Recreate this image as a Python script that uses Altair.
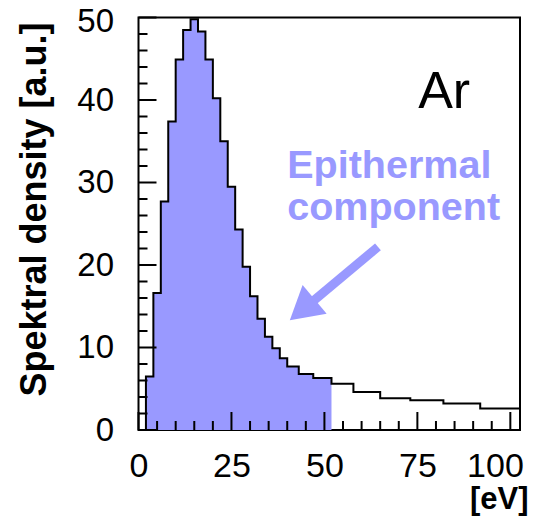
import altair as alt
import pandas as pd

# ---- data ----
edges = [0, 2, 4, 6, 8, 10, 12, 14, 16, 18, 20, 22, 24, 26, 28, 30, 32, 34, 36, 38, 40,
         43.1, 47, 51.9, 57.8, 65, 73.1, 82, 91.9, 102.6]
values = [0, 6.5, 16.6, 27.7, 37.4, 44.9, 48.5, 49.8, 48.3, 44.9, 40.2, 35.0, 29.5, 24.3,
          19.8, 16.2, 13.5, 11.3, 9.9, 8.7, 7.7, 6.8, 6.3, 5.6, 4.6, 3.85, 3.6, 3.2, 2.6]
n_filled = 23  # bins up to 51.9 eV are shaded

x_major = [0, 25, 50, 75, 100]
x_minor = [5, 10, 15, 20, 30, 35, 40, 45, 55, 60, 65, 70, 80, 85, 90, 95]
y_major = [0, 10, 20, 30, 40, 50]
y_minor = [2, 4, 6, 8, 12, 14, 16, 18, 22, 24, 26, 28, 32, 34, 36, 38, 42, 44, 46, 48]

ar_pos = {"x": [82.2], "y": [39.0], "t": ["Ar"]}
epi_lines = {"x": [40.0, 40.0], "y": [30.5, 25.5], "t": ["Epithermal", "component"]}
arrow_shaft = {"x": [64.4], "y": [22.2], "x2": [46.67], "y2": [15.52]}
arrow_head = {"x": [44.03], "y": [14.57]}

W, H = 381.5, 412.5
FONT = "Liberation Sans"
PURPLE = "#9999ff"

# ---- tables ----
line_df = pd.DataFrame({"e": edges, "v": values + [values[-1]]})
area_df = pd.DataFrame({"e": edges[:n_filled + 1],
                        "v": values[:n_filled] + [values[n_filled - 1]]})

xs = alt.Scale(domain=[0, edges[-1]], nice=False, zero=False)
ys = alt.Scale(domain=[0, 50], nice=False)

xaxis = alt.Axis(values=x_major, ticks=False, domain=False, grid=False, title=None,
                 labelFontSize=34, labelFont=FONT, labelColor="black", labelPadding=19,
                 labelFlush=False, labelOverlap=False, labelBound=False,
                 labelAlign={"condition": {"test": "datum.value == 100", "value": "right"},
                             "value": "center"},
                 labelOffset={"condition": {"test": "datum.value == 100", "value": 13},
                              "value": 0})
yaxis = alt.Axis(values=y_major, ticks=False, domain=False, grid=False, title=None,
                 labelFontSize=33, labelFont=FONT, labelColor="black", labelPadding=25,
                 labelFlush=False, labelOverlap=False, labelBound=False,
                 labelOffset={"condition": {"test": "datum.value == 50", "value": 3.5},
                              "value": 0})

area = alt.Chart(area_df).mark_area(interpolate="step-after", color=PURPLE, opacity=1).encode(
    x=alt.X("e:Q", scale=xs, axis=xaxis),
    y=alt.Y("v:Q", scale=ys, axis=yaxis),
)
outline = alt.Chart(line_df).mark_line(interpolate="step-after", color="black", strokeWidth=2).encode(
    x=alt.X("e:Q", scale=xs, axis=xaxis),
    y=alt.Y("v:Q", scale=ys, axis=yaxis),
)

def xticks(vals, length):
    return alt.Chart(pd.DataFrame({"v": vals})).mark_rule(color="black", strokeWidth=2).encode(
        x=alt.X("v:Q", scale=xs, axis=xaxis), y=alt.value(H), y2=alt.value(H - length))

def yticks(vals, length):
    return alt.Chart(pd.DataFrame({"v": vals})).mark_rule(color="black", strokeWidth=2).encode(
        y=alt.Y("v:Q", scale=ys, axis=yaxis), x=alt.value(0), x2=alt.value(length))

ar = alt.Chart(pd.DataFrame(ar_pos)).mark_text(font=FONT, fontSize=52, align="center",
                                                baseline="alphabetic", color="black").encode(
    x=alt.X("x:Q", scale=xs, axis=xaxis), y=alt.Y("y:Q", scale=ys, axis=yaxis), text="t:N")

epi = alt.Chart(pd.DataFrame(epi_lines)).mark_text(font=FONT, fontSize=39.5, fontWeight="bold",
                                                   align="left", baseline="alphabetic",
                                                   color=PURPLE).encode(
    x=alt.X("x:Q", scale=xs, axis=xaxis), y=alt.Y("y:Q", scale=ys, axis=yaxis), text="t:N")

shaft = alt.Chart(pd.DataFrame(arrow_shaft)).mark_rule(color=PURPLE, strokeWidth=9).encode(
    x=alt.X("x:Q", scale=xs, axis=xaxis), y=alt.Y("y:Q", scale=ys, axis=yaxis),
    x2="x2:Q", y2="y2:Q")

head = alt.Chart(pd.DataFrame(arrow_head)).mark_point(shape="triangle-up", filled=True,
                                                      size=1400, angle=230, color=PURPLE,
                                                      opacity=1).encode(
    x=alt.X("x:Q", scale=xs, axis=xaxis), y=alt.Y("y:Q", scale=ys, axis=yaxis))

ytitle = alt.Chart(pd.DataFrame({"t": ["Spektral density [a.u.]"]})).mark_text(
    font=FONT, fontSize=36, fontWeight="bold", angle=270, align="center",
    baseline="middle", color="black").encode(x=alt.value(-104), y=alt.value(192), text="t:N")

xtitle = alt.Chart(pd.DataFrame({"t": ["[eV]"]})).mark_text(
    font=FONT, fontSize=31, fontWeight="bold", align="right",
    baseline="alphabetic", color="black").encode(x=alt.value(W + 8.5), y=alt.value(H + 79), text="t:N")

chart = alt.layer(
    area, outline,
    xticks(x_major, 18), xticks(x_minor, 9),
    yticks(y_major, 18), yticks(y_minor, 9),
    epi, shaft, head, ar, ytitle, xtitle,
).properties(
    width=W, height=H,
    autosize=alt.AutoSizeParams(type="none"),
    padding={"left": 130.5, "top": 9.5, "right": 9, "bottom": 87},
).configure_view(stroke="black", strokeWidth=2)

chart.save("out.html", embed_options={"renderer": "svg", "actions": False})
